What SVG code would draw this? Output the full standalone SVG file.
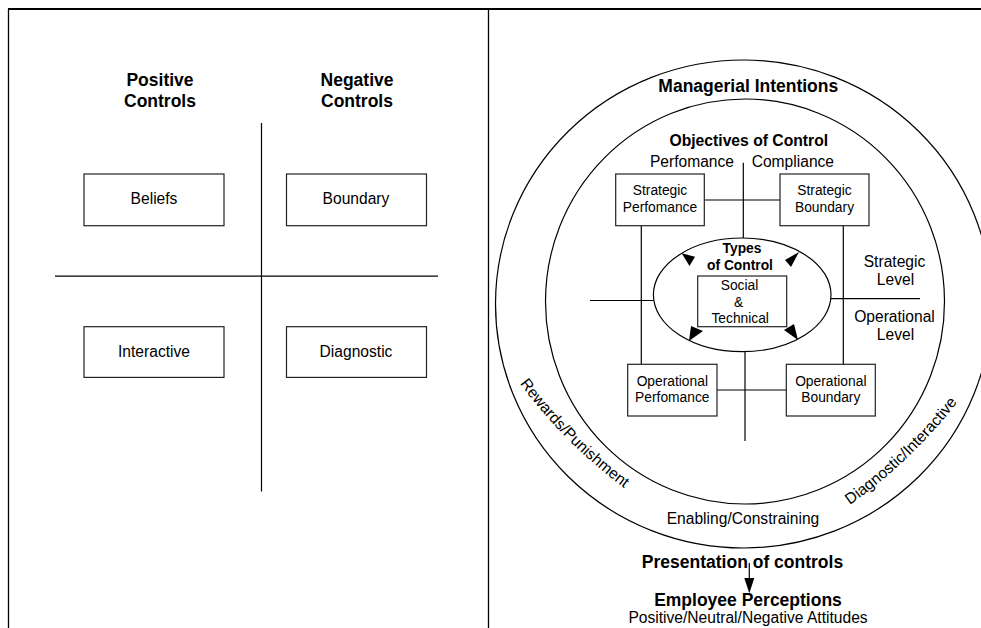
<svg xmlns="http://www.w3.org/2000/svg" width="981" height="628" viewBox="0 0 981 628">
<style>
text{font-family:"Liberation Sans",Arial,sans-serif;fill:#000}
.h{font-size:17.5px;font-weight:bold}
.m{font-size:15.6px}
.s{font-size:13.8px}
.t{font-size:13.8px;font-weight:bold}
.c{text-anchor:middle}
.box{fill:#fff;stroke:#222;stroke-width:1.2}
.ln{fill:none;stroke:#000;stroke-width:1.2}
.ring{fill:none;stroke:#000;stroke-width:1.2}
.ah{fill:#000;stroke:none}
</style>
<defs>
<path id="arcL" d="M 518.8 382.4 A 520 520 0 0 0 625.5 489.1"/>
<path id="arcR" d="M 847.7 506.5 A 520 520 0 0 0 959.1 400.2"/>
</defs>
<rect width="981" height="628" fill="#fff"/>
<g id="frame">
<line x1="8" y1="9" x2="981" y2="9" stroke="#000" stroke-width="2"/>
<line x1="8.5" y1="9" x2="8.5" y2="628" stroke="#000" stroke-width="1.3"/>
<line x1="488.5" y1="9" x2="488.5" y2="628" stroke="#000" stroke-width="1.3"/>
</g>
<!-- Left panel -->
<g id="positive-controls"><text class="h c" x="160" y="85.5">Positive</text><text class="h c" x="160" y="106.5">Controls</text></g>
<g id="negative-controls"><text class="h c" x="357" y="85.5">Negative</text><text class="h c" x="357" y="106.5">Controls</text></g>
<g id="quadrant-lines">
<line class="ln" x1="261.5" y1="123" x2="261.5" y2="491.5"/>
<line class="ln" x1="55" y1="276.2" x2="438" y2="276.2"/>
</g>
<g id="beliefs"><rect class="box" x="84" y="174" width="140" height="51.7"/><text class="m c" x="154" y="204">Beliefs</text></g>
<g id="boundary"><rect class="box" x="286.5" y="174" width="140" height="51.7"/><text class="m c" x="356" y="204">Boundary</text></g>
<g id="interactive"><rect class="box" x="84" y="326.7" width="140" height="50.7"/><text class="m c" x="154" y="357.3">Interactive</text></g>
<g id="diagnostic"><rect class="box" x="286.5" y="326.7" width="140" height="50.7"/><text class="m c" x="356" y="357.3">Diagnostic</text></g>
<!-- Right panel -->
<g id="managerial-intentions">
<ellipse class="ring" cx="743.5" cy="304" rx="248" ry="244"/>
<text class="h c" x="748.3" y="92">Managerial Intentions</text>
<text class="m c"><textPath href="#arcL" startOffset="50%">Rewards/Punishment</textPath></text>
<text class="m c"><textPath href="#arcR" startOffset="50%">Diagnostic/Interactive</textPath></text>
<text class="m c" x="743" y="523.5">Enabling/Constraining</text>
</g>
<g id="objectives-of-control">
<ellipse class="ring" cx="745" cy="301.5" rx="199.5" ry="202.5"/>
<text class="t c" x="748.8" y="145.5" style="font-size:15.7px">Objectives of Control</text>
<text class="m" x="734" y="166.5" text-anchor="end">Perfomance</text>
<text class="m" x="751.7" y="166.5">Compliance</text>
<text class="m c" x="894.5" y="266.5">Strategic</text>
<text class="m c" x="895.5" y="285">Level</text>
<text class="m c" x="894.5" y="321.7">Operational</text>
<text class="m c" x="895.5" y="340">Level</text>
</g>
<g id="connectors">
<line class="ln" x1="743.3" y1="162.7" x2="743.3" y2="238"/>
<line class="ln" x1="704.3" y1="200" x2="780" y2="200"/>
<line class="ln" x1="641.3" y1="225.7" x2="641.3" y2="364.3"/>
<line class="ln" x1="843.3" y1="225.7" x2="843.3" y2="364.3"/>
<line class="ln" x1="590" y1="300.5" x2="653.4" y2="300.5"/>
<line class="ln" x1="831" y1="298.7" x2="920" y2="298.7"/>
<line class="ln" x1="745" y1="351.7" x2="745" y2="441"/>
<line class="ln" x1="717" y1="390" x2="786.3" y2="390"/>
<line class="ln" x1="749.3" y1="563" x2="749.3" y2="580"/>
<polygon class="ah" points="744.3,578 754.3,578 749.3,593.3"/>
</g>
<g id="strategic-performance"><rect class="box" x="615.7" y="174" width="88.6" height="51.7"/><text class="s c" x="660" y="195">Strategic</text><text class="s c" x="660" y="212.3">Perfomance</text></g>
<g id="strategic-boundary"><rect class="box" x="780" y="174" width="89" height="51.7"/><text class="s c" x="824.5" y="195">Strategic</text><text class="s c" x="824.5" y="212.3">Boundary</text></g>
<g id="operational-performance"><rect class="box" x="627.7" y="364.3" width="89.3" height="51.7"/><text class="s c" x="672.3" y="386">Operational</text><text class="s c" x="672.3" y="402.3">Perfomance</text></g>
<g id="operational-boundary"><rect class="box" x="786.3" y="364.3" width="89" height="51.7"/><text class="s c" x="830.8" y="386">Operational</text><text class="s c" x="830.8" y="402.3">Boundary</text></g>
<g id="types-of-control">
<ellipse class="ring" cx="742.2" cy="294.8" rx="88.8" ry="56.8" fill="#fff"/>
<text class="t c" x="742" y="253">Types</text>
<text class="t c" x="740" y="269.5">of Control</text>
<rect class="box" x="697.7" y="276" width="89" height="50.7" fill="none"/>
<text class="s c" x="739.5" y="290">Social</text>
<text class="s c" x="738.5" y="306.7">&amp;</text>
<text class="s c" x="740.2" y="323.3">Technical</text>
<polygon class="ah" points="681.7,253.3 695,256.7 689.5,266"/>
<polygon class="ah" points="799,252 785,260 791,267"/>
<polygon class="ah" points="689,341 691,326 703,331"/>
<polygon class="ah" points="798,340 784,330 794,324"/>
</g>
<g id="presentation-of-controls"><text class="h c" x="742.5" y="568.3">Presentation of controls</text></g>
<g id="employee-perceptions"><text class="h c" x="748" y="606">Employee Perceptions</text><text class="m c" x="748" y="623.3">Positive/Neutral/Negative Attitudes</text></g>
</svg>
